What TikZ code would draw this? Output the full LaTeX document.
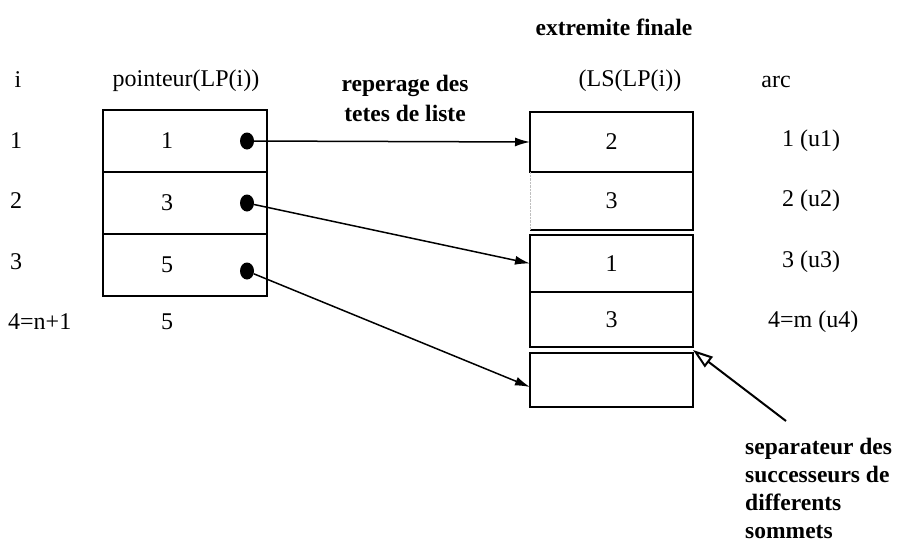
\documentclass[tikz,border=0pt]{standalone}
\usepackage{fontspec}
\setmainfont{Liberation Serif}
\usetikzlibrary{positioning,calc,arrows.meta,shapes.geometric}

\begin{document}
\begin{tikzpicture}[
    x=1pt, y=-1pt,
    txt/.style={font=\fontsize{24}{28}\selectfont, inner sep=0pt},
    btxt/.style={font=\fontsize{23.5}{28}\selectfont\bfseries, inner sep=0pt},
    lcell/.style={rectangle, draw, line width=1.4pt, outer sep=0pt, inner sep=0pt, minimum width=164pt, minimum height=62pt},
    rcell/.style={rectangle, line width=1.4pt, outer sep=0pt, inner sep=0pt, minimum width=163pt, font=\fontsize{24}{28}\selectfont},
    dot/.style={ellipse, fill, inner sep=0pt, minimum width=14pt, minimum height=17pt},
    ptr/.style={-{Latex[length=15pt,width=9pt]}, line width=1.5pt}
]
    \useasboundingbox (0,0) rectangle (901,551);

    % headers
    \node[txt, anchor=base] (hi) at (18,87) {i};
    \node[txt, anchor=base] (hptr) at (186,86) {pointeur(LP(i))};
    \node[btxt, anchor=base] (hrep) at (405,91) {reperage des};
    \node[btxt, anchor=base] (htet) at (405,121) {tetes de liste};
    \node[btxt, anchor=base] (hext) at (614,36) {extremite finale};
    \node[txt, anchor=base] (hls) at (630,86) {(LS(LP(i))};
    \node[txt, anchor=base] (harc) at (776,87) {arc};

    % indices i
    \node[txt, anchor=west] (i1) at (10,141) {1};
    \node[txt, anchor=west] (i2) at (10,201) {2};
    \node[txt, anchor=west] (i3) at (10,262) {3};
    \node[txt, anchor=west] (i4) at (8,322) {4=n+1};

    % tableau LP
    \node[lcell] (l1) at (185,141) {};
    \node[lcell, below=0pt of l1] (l2) {};
    \node[lcell, below=0pt of l2] (l3) {};
    \node[txt] (v1) at ([xshift=-18pt]l1.center) {1};
    \node[txt] (v2) at ([xshift=-18pt]l2.center) {3};
    \node[txt] (v3) at ([xshift=-18pt]l3.center) {5};
    \node[txt] (v4) at (167,322) {5};
    \node[dot] (d1) at ([xshift=-20pt]l1.east) {};
    \node[dot] (d2) at ([xshift=-20pt]l2.east) {};
    \node[dot] (d3) at ([xshift=-20pt,yshift=-6pt]l3.east) {};

    % tableau LS
    \node[rcell, draw, minimum height=60pt] (r1) at (611.5,142) {2};
    \node[rcell, minimum height=58pt, below=0pt of r1] (r2) {3};
    \draw[line width=1.4pt] (r2.north east) -- (r2.south east) -- (r2.south west);
    \draw[densely dotted, gray!50] (r2.north west) -- (r2.south west);
    \node[rcell, draw, minimum height=57pt, below=5pt of r2] (r3) {1};
    \node[rcell, draw, minimum height=55pt, below=0pt of r3] (r4) {3};
    \node[rcell, draw, minimum height=54pt, below=6pt of r4] (r5) {};

    % arcs
    \node[txt, anchor=west] (a1) at (782,141) {1 (u1)};
    \node[txt, anchor=west] (a2) at (782,201) {2 (u2)};
    \node[txt, anchor=west] (a3) at (782,262) {3 (u3)};
    \node[txt, anchor=west] (a4) at (768,322) {4=m (u4)};

    % pointeurs
    \draw[ptr] (d1) -- (r1.west);
    \draw[ptr] (d2) -- (r3.west);
    \draw[ptr] (d3) -- ([yshift=-7pt]r5.west);

    % separateur
    \node[btxt, anchor=north west, align=left] (sep) at (745,438) {separateur des\\successeurs de\\differents\\sommets};
    \coordinate (septail) at (786,421);
    \coordinate (sephead) at ($(r4.south east)!0.5!(r5.north east)$);
    \draw[line width=2pt, -{Triangle[open, length=20pt, width=13pt]}] (septail) -- (sephead);
\end{tikzpicture}
\end{document}
